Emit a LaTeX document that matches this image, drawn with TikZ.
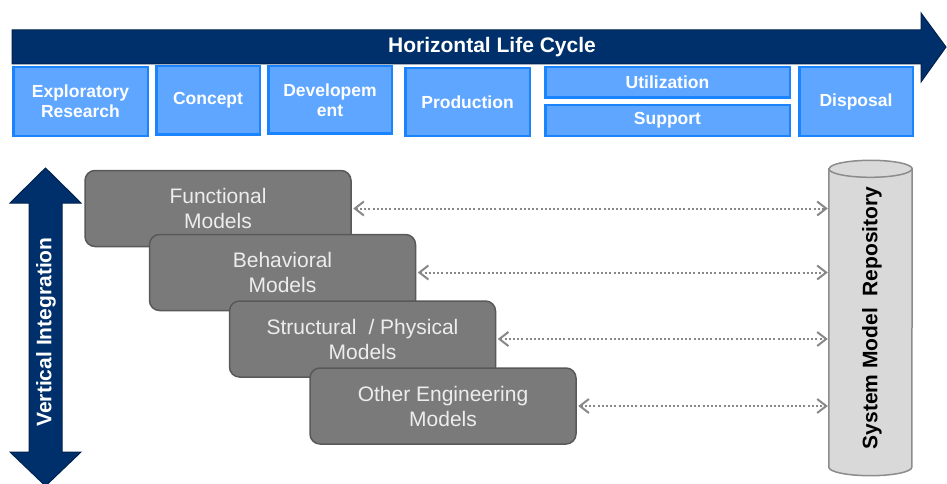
\documentclass[tikz,border=0pt]{standalone}
\usepackage{fontspec}
\setmainfont{Liberation Sans}
\usepackage{xcolor}
\usetikzlibrary{arrows.meta, positioning, calc}

\definecolor{navy}{HTML}{00306B}
\definecolor{navyline}{HTML}{00224D}
\definecolor{phasefill}{HTML}{5EA6FF}
\definecolor{phaseline}{HTML}{1A84FF}
\definecolor{modelfill}{HTML}{7A7A7A}
\definecolor{modelline}{HTML}{595959}
\definecolor{repofill}{HTML}{D9D9D9}
\definecolor{repoline}{HTML}{8C8C8C}
\definecolor{linkgray}{HTML}{888888}

\begin{document}
\begin{tikzpicture}[x=1pt, y=1pt,
	phase/.style={draw=phaseline, line width=2.5pt, fill=phasefill, text=white,
		font=\fontsize{17.5}{20}\selectfont\bfseries, align=center, inner sep=0pt},
	model/.style={draw=modelline, line width=1.5pt, fill=modelfill, rounded corners=10pt,
		text=white!93!black, font=\fontsize{21}{25}\selectfont, align=center,
		minimum width=266, minimum height=76},
	link/.style={linkgray, line width=2pt, dash pattern=on 2pt off 2.2pt,
		{Straight Barb[length=9pt,width=14pt]}-{Straight Barb[length=9pt,width=14pt]}}]
	\useasboundingbox (0,0) rectangle (947,-484);

	% horizontal life cycle arrow
	\filldraw[fill=navy, draw=navyline, line width=1pt]
	(12,-30) -- (921,-30) -- (921,-13) -- (946,-47) -- (921,-82) -- (921,-64) -- (12,-64) -- cycle;
	\node[text=white, font=\fontsize{21}{24}\selectfont\bfseries] (hlc) at (492,-47) {Horizontal Life Cycle};

	% life cycle phases
	\foreach \name/\cx/\cy/\w/\h/\txt in {
		explore/80.5/-101.5/134.5/68.5/{Exploratory\\Research},
		concept/208/-100.5/103.5/68.5/{Concept},
		develop/330/-100/123.5/67.5/{Developem\\ent},
		produce/467.5/-102/124.5/67.5/{Production},
		utilize/667.5/-82.5/244.5/30.5/{Utilization},
		support/667.5/-120.5/244.5/30.5/{Support},
		dispose/856/-101.5/113.5/68.5/{Disposal}}
	\node[phase, minimum width=\w, minimum height=\h] (\name) at (\cx,\cy) {\txt};

	% vertical integration arrow
	\filldraw[fill=navy, draw=navyline, line width=1pt]
	(45.5,-168) -- (81,-203) -- (62,-203) -- (62,-452) -- (81,-452) -- (45.5,-486)
	-- (10,-452) -- (29,-452) -- (29,-203) -- (10,-203) -- cycle;
	\node[rotate=90, text=white, font=\fontsize{21}{24}\selectfont\bfseries] (vint) at (46,-332) {Vertical Integration};

	% model layers
	\foreach \name/\cx/\cy/\txt in {
		functional/218/-208.5/{Functional\\Models},
		behavioral/282.5/-272.5/{Behavioral\\Models},
		structural/362.5/-339/{Structural\hspace{0.3em} / Physical\\Models},
		otherEng/443/-406/{Other Engineering\\Models}}
	\node[model] (\name) at (\cx,\cy) {\txt};

	% system model repository
	\node[minimum width=83, minimum height=298, inner sep=0pt] (repo) at (870.5,-318) {};
	\filldraw[fill=repofill, draw=repoline, line width=1.5pt]
	(repo.north west) -- (repo.south west)
	arc[start angle=180, end angle=360, x radius=41.5, y radius=8.5]
	-- (repo.north east)
	arc[start angle=0, end angle=180, x radius=41.5, y radius=8.5] -- cycle;
	\draw[repoline, line width=1.5pt] (repo.north west)
	arc[start angle=180, end angle=360, x radius=41.5, y radius=8.5];
	\node[rotate=90, font=\fontsize{21}{24}\selectfont\bfseries] (repotext) at (872,-318) {System Model\ \ Repository};

	% links to the repository
	\foreach \name in {functional, behavioral, structural, otherEng}
	\draw[link] ([xshift=1.5pt]\name.east) -- ([xshift=-1pt]\name.east -| repo.west);
\end{tikzpicture}
\end{document}
